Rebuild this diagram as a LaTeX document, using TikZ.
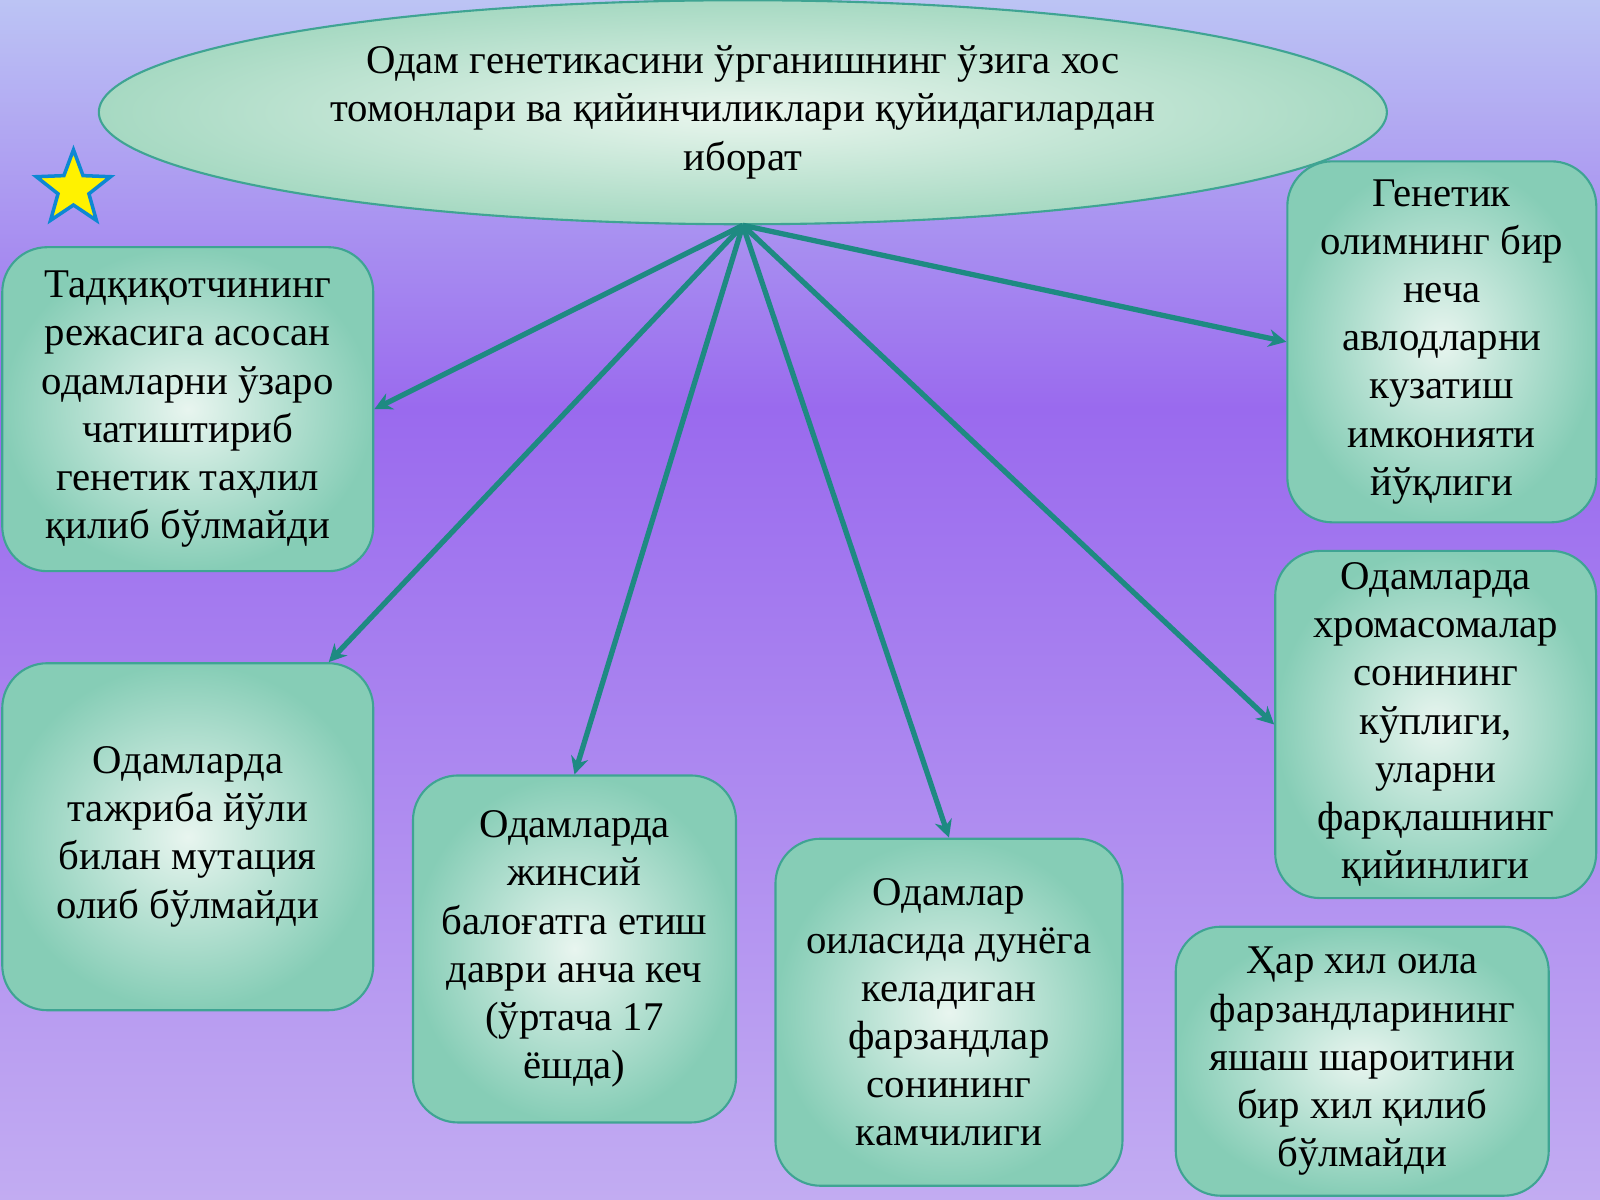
\documentclass[tikz,border=0pt]{standalone}
\usepackage{fontspec}
\setmainfont{Liberation Serif}
\usetikzlibrary{shapes.geometric,arrows.meta,calc}
\definecolor{bgtop}{HTML}{BCC4F4}
\definecolor{bgmid}{HTML}{9A6AEE}
\definecolor{bgbot}{HTML}{C2ACF2}
\definecolor{boxin}{HTML}{E8F5EF}
\definecolor{boxout}{HTML}{86CDB6}
\definecolor{elin}{HTML}{EAF6EE}
\definecolor{elout}{HTML}{A6D9C2}
\definecolor{line}{HTML}{1E8A82}
\definecolor{bord}{HTML}{3FA493}
\begin{document}
\begin{tikzpicture}[x=1cm/98,y=-1cm/98,
  box/.style={draw=bord,line width=0.6pt,rounded corners=0.45cm,inner color=boxin,outer color=boxout,align=center,font=\fontsize{11.6}{13.7}\selectfont},
  con/.style={draw=line,line width=1.5pt,-{Stealth[length=5pt,width=5pt]}}]
\useasboundingbox (0,0) rectangle (1568,1176);
\shade[top color=bgtop,bottom color=bgmid] (0,0) rectangle (1568,400);
\shade[top color=bgmid,bottom color=bgbot] (0,400) rectangle (1568,1176);
\node[ellipse,draw=bord,line width=0.6pt,inner color=elin,outer color=elout,minimum width=12.88cm,minimum height=2.24cm,align=center,font=\fontsize{11.6}{13.7}\selectfont] (top) at (728,110) {Одам генетикасини ўрганишнинг ўзига хос\\томонлари ва қийинчиликлари қуйидагилардан\\иборат};
\node[star,star points=5,star point ratio=2.4,draw=cyan!70!blue,line width=1pt,fill=yellow,minimum size=0.78cm,inner sep=0pt] (st) at (72,185) {};
\node[box,minimum width=3.71cm,minimum height=3.24cm] (b1) at (184,401) {Тадқиқотчининг\\режасига асосан\\одамларни ўзаро\\чатиштириб\\генетик таҳлил\\қилиб бўлмайди};
\node[box,minimum width=3.71cm,minimum height=3.47cm] (b2) at (184,820) {Одамларда\\тажриба йўли\\билан мутация\\олиб бўлмайди};
\node[box,minimum width=3.23cm,minimum height=3.47cm] (b3) at (563,930) {Одамларда\\жинсий\\балоғатга етиш\\даври анча кеч\\(ўртача 17\\ёшда)};
\node[box,minimum width=3.47cm,minimum height=3.47cm] (b4) at (930,992) {Одамлар\\оиласида дунёга\\келадиган\\фарзандлар\\сонининг\\камчилиги};
\node[box,minimum width=3.73cm,minimum height=2.69cm] (b5) at (1335,1040) {Ҳар хил оила\\фарзандларининг\\яшаш шароитини\\бир хил қилиб\\бўлмайди};
\node[box,minimum width=3.21cm,minimum height=3.47cm] (b6) at (1407,710) {Одамларда\\хромасомалар\\сонининг\\кўплиги,\\уларни\\фарқлашнинг\\қийинлиги};
\node[box,minimum width=3.09cm,minimum height=3.61cm] (b7) at (1413,335) {Генетик\\олимнинг бир\\неча\\авлодларни\\кузатиш\\имконияти\\йўқлиги};
\draw[con] (top.south) -- (b1.east);
\draw[con] (top.south) -- ($(b2.north)+(1.41cm,0)$);
\draw[con] (top.south) -- (b3.north);
\draw[con] (top.south) -- (b4.north);
\draw[con] (top.south) -- (b6.west);
\draw[con] (top.south) -- (b7.west);
\end{tikzpicture}
\end{document}
